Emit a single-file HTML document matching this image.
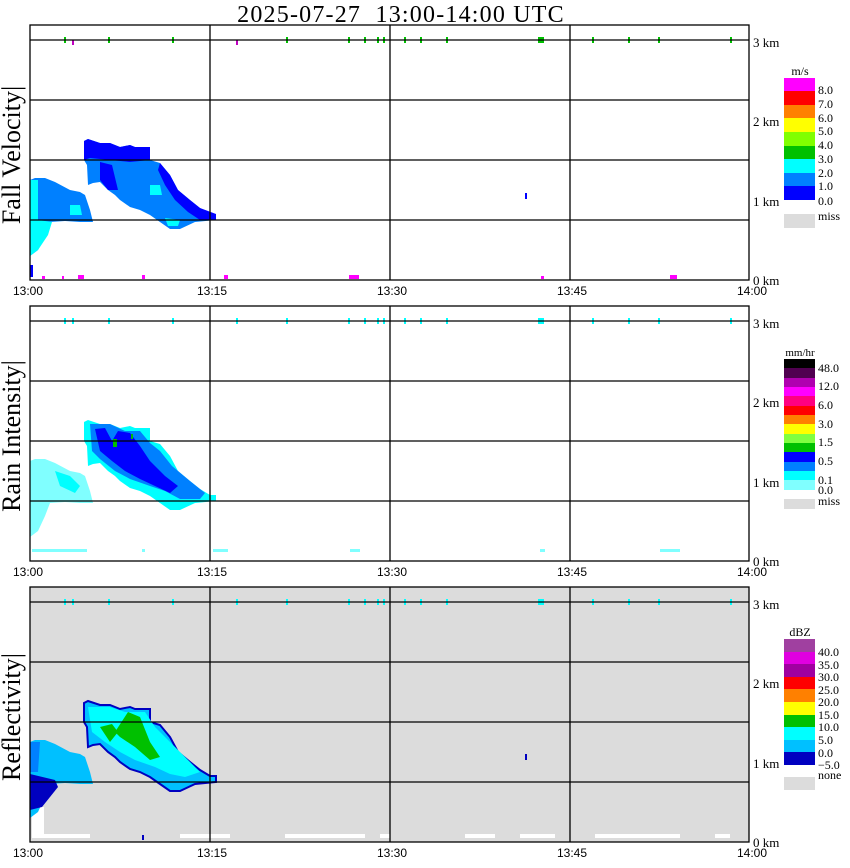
<!DOCTYPE html>
<html><head><meta charset="utf-8"><style>
html,body{margin:0;padding:0;background:#fff;width:850px;height:868px;overflow:hidden}
svg{display:block}
.t{font-family:"Liberation Sans",sans-serif;font-size:12px}
.s{font-family:"Liberation Serif",serif}
</style></head><body>
<svg width="850" height="868" viewBox="0 0 850 868" xmlns="http://www.w3.org/2000/svg">
<defs>
<polygon id="main" points="84,141 88,139 100,143 110,143 120,147 130,145 135,147 150,147 150,160 160,163 170,175 178,190 190,200 200,208 210,214 216,214 216,220 195,222 180,229 170,229 160,222 150,215 140,210 130,207 120,200 115,195 108,190 100,182 93,183 88,185 87,165 84,160"/>
<polygon id="left" points="30,180 35,178 45,178 55,182 70,190 80,192 85,195 90,210 93,222 80,222 65,221 50,222 45,235 38,250 30,256"/>
</defs>
<text x="401" y="22" text-anchor="middle" class="s" font-size="24" letter-spacing="1.2" style="white-space:pre" xml:space="preserve">2025-07-27  13:00-14:00 UTC</text>

<!-- PANEL 1 -->
<g>
<use href="#main" fill="#0080ff"/>
<polygon points="84,141 88,139 100,143 110,143 120,147 130,145 135,147 150,147 150,160 130,162 110,160 90,158 84,160" fill="#0000ff"/>
<polygon points="100,162 112,165 118,190 108,190 100,180" fill="#0000ff"/>
<polygon points="160,163 170,175 178,190 190,200 200,208 216,214 216,220 200,220 188,212 175,200 165,185 158,170" fill="#0000ff"/>
<polygon points="150,185 160,185 162,195 150,195" fill="#00ffff"/>
<polygon points="165,218 180,220 178,226 168,226" fill="#00ffff"/>
<use href="#left" fill="#0080ff"/>
<polygon points="30,180 38,180 38,220 52,222 48,235 38,250 30,256" fill="#00ffff"/>
<polygon points="70,205 80,205 82,215 70,215" fill="#00ffff"/>
<rect x="30" y="265" width="3" height="12" fill="#0000ff"/>
<rect x="525" y="193" width="2" height="6" fill="#0000ff"/>
<g fill="#ff00ff"><rect x="42" y="276" width="3" height="3"/><rect x="62" y="276" width="2" height="3"/><rect x="78" y="275" width="6" height="4"/><rect x="142" y="275" width="3" height="4"/><rect x="224" y="275" width="4" height="4"/><rect x="349" y="275" width="10" height="4"/><rect x="541" y="276" width="3" height="3"/><rect x="670" y="275" width="7" height="4"/></g>
<g fill="#00c000"><rect x="64" y="37" width="2" height="6"/><rect x="108" y="37" width="2" height="6"/><rect x="172" y="37" width="2" height="6"/><rect x="286" y="37" width="2" height="6"/><rect x="348" y="37" width="2" height="6"/><rect x="364" y="37" width="2" height="6"/><rect x="377" y="37" width="2" height="6"/><rect x="383" y="37" width="2" height="6"/><rect x="404" y="37" width="2" height="6"/><rect x="420" y="37" width="2" height="6"/><rect x="446" y="37" width="2" height="6"/><rect x="538" y="37" width="6" height="6"/><rect x="592" y="37" width="2" height="6"/><rect x="628" y="37" width="2" height="6"/><rect x="658" y="37" width="2" height="6"/><rect x="730" y="37" width="2" height="6"/></g>
<rect x="72" y="40" width="2" height="5" fill="#c000c0"/><rect x="236" y="40" width="2" height="5" fill="#c000c0"/>
<g stroke="#000" stroke-width="1.3" fill="none">
<rect x="30" y="25" width="719" height="255"/>
<path d="M30 40H749M30 100H749M30 160H749M30 220H749M210 25V280M390 25V280M570 25V280"/>
</g>
<g class="t"><text x="13" y="295">13:00</text><text x="197" y="295">13:15</text><text x="377" y="295">13:30</text><text x="557" y="295">13:45</text><text x="737" y="295">14:00</text></g>
<g class="s" font-size="13"><text x="753" y="47">3 km</text><text x="753" y="126">2 km</text><text x="753" y="206">1 km</text><text x="753" y="285">0 km</text></g>
<text transform="translate(20,155) rotate(-90)" text-anchor="middle" class="s" font-size="26">Fall Velocity|</text>
<g>
<text x="800" y="75" text-anchor="middle" class="s" font-size="12">m/s</text>
<rect x="784" y="78" width="31" height="14" fill="#ff00ff"/><rect x="784" y="91" width="31" height="14" fill="#ff0000"/><rect x="784" y="105" width="31" height="14" fill="#ff8000"/><rect x="784" y="118" width="31" height="14" fill="#ffff00"/><rect x="784" y="132" width="31" height="14" fill="#80ff00"/><rect x="784" y="146" width="31" height="14" fill="#00c000"/><rect x="784" y="159" width="31" height="14" fill="#00ffff"/><rect x="784" y="173" width="31" height="14" fill="#0080ff"/><rect x="784" y="186" width="31" height="14" fill="#0000ff"/>
<rect x="784" y="214" width="31" height="14" fill="#dcdcdc"/>
<g class="s" font-size="12"><text x="818" y="94">8.0</text><text x="818" y="108">7.0</text><text x="818" y="122">6.0</text><text x="818" y="135">5.0</text><text x="818" y="149">4.0</text><text x="818" y="163">3.0</text><text x="818" y="177">2.0</text><text x="818" y="190">1.0</text><text x="818" y="205">0.0</text><text x="818" y="220">miss</text></g>
</g>
</g>

<!-- PANEL 2 -->
<g transform="translate(0,281)">
<use href="#main" fill="#00ffff"/>
<polygon points="90,143 110,143 125,150 140,150 150,162 160,170 172,185 190,200 205,212 200,218 180,218 165,210 150,205 130,198 115,190 100,178 92,170" fill="#0080ff"/>
<polygon points="95,148 105,147 112,160 118,150 130,152 140,165 150,180 165,195 178,205 170,212 155,205 140,198 125,190 112,180 100,170" fill="#0000ff"/>
<rect x="113" y="158" width="4" height="8" fill="#00c000"/><rect x="131" y="153" width="2" height="5" fill="#00c000"/>
<use href="#left" fill="#80ffff"/>
<polygon points="55,190 70,195 80,205 75,212 60,205" fill="#00ffff"/>
<g fill="#80ffff"><rect x="32" y="268" width="55" height="3"/><rect x="142" y="268" width="3" height="3"/><rect x="213" y="268" width="15" height="3"/><rect x="350" y="268" width="10" height="3"/><rect x="540" y="268" width="5" height="3"/><rect x="660" y="268" width="20" height="3"/></g>
<g fill="#00ffff"><rect x="64" y="37" width="2" height="6"/><rect x="72" y="37" width="2" height="6"/><rect x="108" y="37" width="2" height="6"/><rect x="172" y="37" width="2" height="6"/><rect x="236" y="37" width="2" height="6"/><rect x="286" y="37" width="2" height="6"/><rect x="348" y="37" width="2" height="6"/><rect x="364" y="37" width="2" height="6"/><rect x="377" y="37" width="2" height="6"/><rect x="383" y="37" width="2" height="6"/><rect x="404" y="37" width="2" height="6"/><rect x="420" y="37" width="2" height="6"/><rect x="446" y="37" width="2" height="6"/><rect x="538" y="37" width="6" height="6"/><rect x="592" y="37" width="2" height="6"/><rect x="628" y="37" width="2" height="6"/><rect x="658" y="37" width="2" height="6"/><rect x="730" y="37" width="2" height="6"/></g>
<g stroke="#000" stroke-width="1.3" fill="none">
<rect x="30" y="25" width="719" height="255"/>
<path d="M30 40H749M30 100H749M30 160H749M30 220H749M210 25V280M390 25V280M570 25V280"/>
</g>
<g class="t"><text x="13" y="295">13:00</text><text x="197" y="295">13:15</text><text x="377" y="295">13:30</text><text x="557" y="295">13:45</text><text x="737" y="295">14:00</text></g>
<g class="s" font-size="13"><text x="753" y="47">3 km</text><text x="753" y="126">2 km</text><text x="753" y="206">1 km</text><text x="753" y="285">0 km</text></g>
<text transform="translate(20,155) rotate(-90)" text-anchor="middle" class="s" font-size="26">Rain Intensity|</text>
</g>
<g>
<text x="800" y="356" text-anchor="middle" class="s" font-size="11">mm/hr</text>
<rect x="784" y="359" width="31" height="10" fill="#000000"/><rect x="784" y="368" width="31" height="10" fill="#500050"/><rect x="784" y="378" width="31" height="10" fill="#b000b0"/><rect x="784" y="387" width="31" height="10" fill="#ff00ff"/><rect x="784" y="396" width="31" height="10" fill="#ff0080"/><rect x="784" y="406" width="31" height="10" fill="#ff0000"/><rect x="784" y="415" width="31" height="10" fill="#ff8000"/><rect x="784" y="424" width="31" height="10" fill="#ffff00"/><rect x="784" y="434" width="31" height="10" fill="#80ff40"/><rect x="784" y="443" width="31" height="10" fill="#00c000"/><rect x="784" y="452" width="31" height="10" fill="#0000ff"/><rect x="784" y="462" width="31" height="10" fill="#0080ff"/><rect x="784" y="471" width="31" height="10" fill="#00ffff"/><rect x="784" y="480" width="31" height="10" fill="#80ffff"/>
<rect x="784" y="499" width="31" height="10" fill="#dcdcdc"/>
<g class="s" font-size="12"><text x="818" y="372">48.0</text><text x="818" y="390">12.0</text><text x="818" y="409">6.0</text><text x="818" y="428">3.0</text><text x="818" y="446">1.5</text><text x="818" y="465">0.5</text><text x="818" y="484">0.1</text><text x="818" y="494">0.0</text><text x="818" y="505">miss</text></g>
</g>

<!-- PANEL 3 -->
<g transform="translate(0,562)">
<rect x="30" y="25" width="719" height="255" fill="#dcdcdc"/>
<g fill="#fff"><rect x="32" y="272" width="58" height="4"/><rect x="32" y="245" width="12" height="28"/><rect x="180" y="272" width="50" height="4"/><rect x="285" y="272" width="80" height="4"/><rect x="380" y="272" width="10" height="4"/><rect x="465" y="272" width="30" height="4"/><rect x="520" y="272" width="35" height="4"/><rect x="595" y="272" width="85" height="4"/><rect x="715" y="272" width="15" height="4"/></g>
<use href="#main" fill="#00c0ff" stroke="#0000c0" stroke-width="2"/>
<polygon points="88,145 110,145 125,150 145,150 155,165 170,180 190,200 200,210 185,215 170,212 155,205 135,198 120,190 105,180 92,170" fill="#00ffff"/>
<polygon points="100,165 112,162 118,170 110,180" fill="#00c000"/>
<polygon points="128,150 140,155 150,180 160,195 150,198 135,185 120,175 115,170" fill="#00c000"/>
<use href="#left" fill="#00c0ff"/>
<polygon points="30,212 55,218 58,225 50,235 42,245 30,248" fill="#0000c0"/>
<polygon points="30,180 40,180 38,210 30,210" fill="#0080ff"/>
<rect x="142" y="273" width="2" height="5" fill="#0000c0"/><rect x="525" y="192" width="2" height="6" fill="#0000c0"/>
<g fill="#00ffff"><rect x="64" y="37" width="2" height="6"/><rect x="72" y="37" width="2" height="6"/><rect x="108" y="37" width="2" height="6"/><rect x="172" y="37" width="2" height="6"/><rect x="236" y="37" width="2" height="6"/><rect x="286" y="37" width="2" height="6"/><rect x="348" y="37" width="2" height="6"/><rect x="364" y="37" width="2" height="6"/><rect x="377" y="37" width="2" height="6"/><rect x="383" y="37" width="2" height="6"/><rect x="404" y="37" width="2" height="6"/><rect x="420" y="37" width="2" height="6"/><rect x="446" y="37" width="2" height="6"/><rect x="538" y="37" width="6" height="6"/><rect x="592" y="37" width="2" height="6"/><rect x="628" y="37" width="2" height="6"/><rect x="658" y="37" width="2" height="6"/><rect x="730" y="37" width="2" height="6"/></g>
<g stroke="#000" stroke-width="1.3" fill="none">
<rect x="30" y="25" width="719" height="255"/>
<path d="M30 40H749M30 100H749M30 160H749M30 220H749M210 25V280M390 25V280M570 25V280"/>
</g>
<g class="t"><text x="13" y="295">13:00</text><text x="197" y="295">13:15</text><text x="377" y="295">13:30</text><text x="557" y="295">13:45</text><text x="737" y="295">14:00</text></g>
<g class="s" font-size="13"><text x="753" y="47">3 km</text><text x="753" y="126">2 km</text><text x="753" y="206">1 km</text><text x="753" y="285">0 km</text></g>
<text transform="translate(20,155) rotate(-90)" text-anchor="middle" class="s" font-size="26">Reflectivity|</text>
</g>
<g>
<text x="800" y="636" text-anchor="middle" class="s" font-size="12">dBZ</text>
<rect x="784" y="639" width="31" height="13" fill="#a040a0"/><rect x="784" y="652" width="31" height="13" fill="#e000e0"/><rect x="784" y="664" width="31" height="13" fill="#a000a0"/><rect x="784" y="677" width="31" height="13" fill="#ff0000"/><rect x="784" y="689" width="31" height="13" fill="#ff8000"/><rect x="784" y="702" width="31" height="13" fill="#ffff00"/><rect x="784" y="715" width="31" height="13" fill="#00c000"/><rect x="784" y="727" width="31" height="13" fill="#00ffff"/><rect x="784" y="740" width="31" height="13" fill="#00c0ff"/><rect x="784" y="752" width="31" height="13" fill="#0000c0"/>
<rect x="784" y="777" width="31" height="13" fill="#dcdcdc"/>
<g class="s" font-size="12"><text x="818" y="656">40.0</text><text x="818" y="669">35.0</text><text x="818" y="681">30.0</text><text x="818" y="694">25.0</text><text x="818" y="706">20.0</text><text x="818" y="719">15.0</text><text x="818" y="731">10.0</text><text x="818" y="744">5.0</text><text x="818" y="757">0.0</text><text x="818" y="769">−5.0</text><text x="818" y="779">none</text></g>
</g>
</svg>
</body></html>
